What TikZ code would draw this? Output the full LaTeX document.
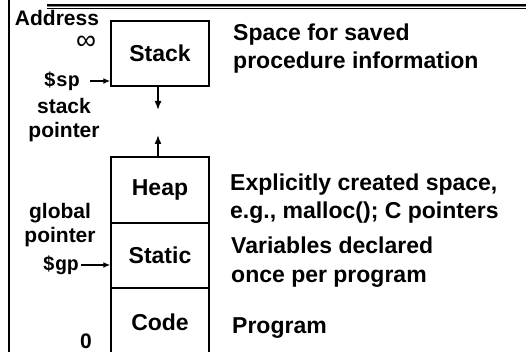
\documentclass[tikz,border=0pt]{standalone}
\usepackage{fontspec}
\setmainfont{Liberation Sans}
\setmonofont{Liberation Mono}
\usetikzlibrary{arrows.meta}

\tikzset{
  membox/.style={draw, line width=1.5pt, minimum width=98pt, inner sep=0pt,
    font=\fontsize{23}{28}\selectfont\bfseries},
  leftlbl/.style={inner sep=0pt, font=\fontsize{21}{24}\selectfont\bfseries},
  twoline/.style={leftlbl, align=center},
  reglbl/.style={inner sep=0pt, font=\fontsize{20}{24}\selectfont\ttfamily\bfseries},
  desc/.style={anchor=west, align=left, inner sep=0pt, font=\fontsize{23}{28.5}\selectfont\bfseries},
  ptr/.style={-{Latex[length=7pt,width=6pt]}, line width=1.4pt},
  growptr/.style={-{Latex[length=9pt,width=7pt]}, line width=1.6pt}
}

\begin{document}
\begin{tikzpicture}[x=1pt,y=1pt]
				\useasboundingbox (0,0) rectangle (526,352);
				\draw[line width=2pt] (9,0) -- (9,352);
				\draw[line width=1.8pt] (47,346.7) -- (526,346.7);
				\draw[gray, line width=1pt] (47,345) -- (526,345);
				\draw[line width=0.9pt] (47,343.6) -- (526,343.6);
				
				\node[membox, minimum height=65pt] at (160,298.5) (stack) {Stack};
				\node[membox, minimum height=66pt] at (160,162) (heap) {Heap};
				\node[membox, minimum height=65pt] at (160,96.5) (static) {Static};
				\node[membox, minimum height=68pt] at (160,30) (code) {Code};
				
				\node[leftlbl] at (57,334) (addr) {Address};
				\node[inner sep=0pt, font=\fontsize{28}{28}\selectfont] at (86,309) (inf) {∞};
				\node[reglbl] at (62,271) (sp) {\$sp};
				\node[twoline] at (64,231.5) (spname) {stack\\pointer};
				\node[twoline] at (60,127) (gpname) {global\\pointer};
				\node[reglbl] at (61,87) (gp) {\$gp};
				\node[leftlbl] at (86,11) (zero) {0};
				
				\node[desc] at (233,303.5) (stackdesc) {Space for saved\\procedure information};
				\node[desc] at (230,153.5) (heapdesc) {Explicitly created space,\\e.g., malloc(); C pointers};
				\node[desc] at (231,90) (staticdesc) {Variables declared\\once per program};
				\node[desc] at (232,24) (codedesc) {Program};
				
				\coordinate (stackend) at (158,242);
				\coordinate (heapend) at (158,217);
				
				\draw[ptr] (sp.east) ++(10,0) -- (sp -| stack.west);
				\draw[ptr] (gp.east) ++(2,0) -- (gp -| static.west);
				\draw[growptr] (stack.south -| stackend) -- (stackend);
				\draw[growptr] (heap.north -| heapend) -- (heapend);
			\end{tikzpicture}
\end{document}
